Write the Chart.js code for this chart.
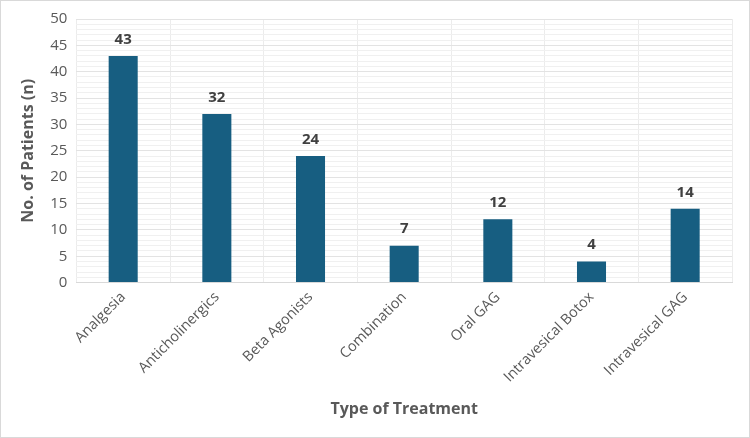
<!DOCTYPE html>
<html>
<head>
<meta charset="utf-8">
<script src="https://cdn.jsdelivr.net/npm/chart.js@4"></script>
<style>
  html, body { margin: 0; padding: 0; background: #fff; }
  .frame { width: 748px; height: 436px; border: 1px solid #d9d9d9; position: relative; }
  canvas { display: block; }
</style>
</head>
<body>
<div class="frame"><canvas id="chart" width="748" height="436"></canvas></div>
<script>
// 데이터: 치료 유형별 환자 수
const categories = ["Analgesia", "Anticholinergics", "Beta Agonists", "Combination", "Oral GAG", "Intravesical Botox", "Intravesical GAG"];
const patients = [43, 32, 24, 7, 12, 4, 14];
const yTicks = [0, 5, 10, 15, 20, 25, 30, 35, 40, 45, 50];

const font = "'Open Sans', 'Liberation Sans', sans-serif";

// 막대 위에 값 표시
const valueLabels = {
  id: "valueLabels",
  afterDatasetsDraw(chart) {
    const ctx = chart.ctx;
    const meta = chart.getDatasetMeta(0);
    ctx.save();
    ctx.font = `bold 15px ${font}`;
    ctx.fillStyle = "#404040";
    ctx.textAlign = "center";
    ctx.textBaseline = "bottom";
    meta.data.forEach((bar, i) => {
      ctx.fillText(patients[i], bar.x, bar.y - 9);
    });
    ctx.restore();
  }
};

new Chart(document.getElementById("chart"), {
  type: "bar",
  data: {
    labels: categories,
    datasets: [{
      data: patients,
      backgroundColor: "#175e81",
      categoryPercentage: 1,
      barPercentage: 0.31
    }]
  },
  options: {
    responsive: false,
    animation: false,
    layout: { padding: { top: 10, right: 17, bottom: 14, left: 14 } },
    plugins: { legend: { display: false }, tooltip: { enabled: false } },
    scales: {
      x: {
        grid: { color: "#ececec", drawTicks: false },
        border: { color: "#d9d9d9" },
        ticks: {
          color: "#595959",
          font: { family: font, size: 14.5 },
          maxRotation: 45,
          minRotation: 45,
          padding: 6
        },
        title: {
          display: true,
          text: "Type of Treatment",
          color: "#595959",
          font: { family: font, size: 16, weight: "bold" },
          padding: { top: 8 }
        }
      },
      y: {
        min: 0,
        max: 50,
        grid: {
          drawTicks: false,
          color: (c) => (c.tick && c.tick.value % 5 === 0) ? "#e3e3e3" : "#f0f0f0"
        },
        border: { display: false },
        ticks: {
          stepSize: 1,
          autoSkip: false,
          color: "#595959",
          font: { family: font, size: 15 },
          padding: 9,
          callback: (v) => yTicks.includes(v) ? v : ""
        },
        title: {
          display: true,
          text: "No. of Patients (n)",
          color: "#595959",
          font: { family: font, size: 16, weight: "bold" },
          padding: { bottom: 3 }
        }
      }
    }
  },
  plugins: [valueLabels]
});
</script>
</body>
</html>
